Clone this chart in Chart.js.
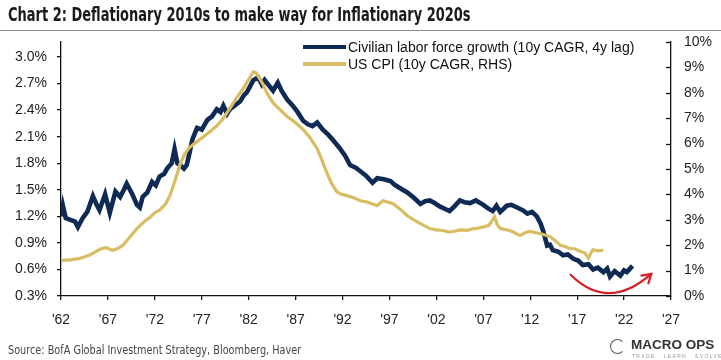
<!DOCTYPE html>
<html>
<head>
<meta charset="utf-8">
<script src="https://cdn.jsdelivr.net/npm/chart.js@4/dist/chart.umd.min.js"></script>
<style>
body{margin:0;background:#fff;}
#wrap{position:relative;width:721px;height:360px;overflow:hidden;background:#fff;}
#c{position:absolute;left:0;top:0;}
.title{position:absolute;left:8px;top:3px;font-family:"Liberation Sans Narrow","DejaVu Sans Condensed",sans-serif;font-weight:bold;font-size:19px;color:#1b1b1b;white-space:nowrap;transform:scaleX(0.76);transform-origin:0 0;}
.rule{position:absolute;left:0;top:30px;width:721px;height:1px;background:#8a8a8a;}
.legend{position:absolute;left:303px;top:39px;font-family:"Liberation Sans",Arial,sans-serif;font-size:14px;color:#111;}
.legend div{height:16.5px;line-height:16.5px;white-space:nowrap;}
.legend span{display:inline-block;width:43px;height:4px;vertical-align:middle;margin-right:2px;margin-top:-2px;}
.source{position:absolute;left:8px;top:342px;font-family:"Liberation Sans Narrow","DejaVu Sans Condensed",sans-serif;font-size:13px;color:#444;white-space:nowrap;transform:scaleX(0.83);transform-origin:0 0;}
.logo{position:absolute;left:610px;top:336px;font-family:"Liberation Sans",Arial,sans-serif;color:#333;}
.logo .ring{position:absolute;left:0;top:3px;width:13px;height:13px;border:1.5px solid #555;border-radius:50%;border-right-color:transparent;}
.logo .name{position:absolute;left:21px;top:1px;font-size:13.5px;font-weight:bold;white-space:nowrap;}
.logo .sub{position:absolute;left:22px;top:17px;font-size:5px;color:#999;letter-spacing:1.3px;white-space:nowrap;}
</style>
</head>
<body>
<div id="wrap">
<canvas id="c" width="721" height="360"></canvas>
<div class="title">Chart 2: Deflationary 2010s to make way for Inflationary 2020s</div>
<div class="rule"></div>
<div class="legend">
<div><span style="background:#0f2b55"></span>Civilian labor force growth (10y CAGR, 4y lag)</div>
<div><span style="background:#d8bd62"></span>US CPI (10y CAGR, RHS)</div>
</div>
<div class="source">Source: BofA Global Investment Strategy, Bloomberg, Haver</div>
<div class="logo"><div class="ring"></div><div class="name">MACRO OPS</div><div class="sub">TRADE · LEARN · EVOLVE</div></div>
</div>

<script>
// labor force growth, 10y CAGR, 4y lag (left axis, %)
let laborYears=[1962.0,1962.2,1962.5,1963.0,1963.5,1963.8,1964.3,1964.8,1965.4,1965.8,1966.1,1966.7,1967.2,1967.8,1968.3,1968.7,1969.0,1969.6,1970.1,1970.4,1970.7,1971.2,1971.7,1972.1,1972.5,1973.0,1973.3,1973.8,1974.1,1974.4,1974.7,1975.1,1975.4,1975.7,1976.0,1976.5,1977.0,1977.6,1978.1,1978.6,1979.0,1979.3,1979.7,1980.0,1980.5,1981.1,1981.5,1981.8,1982.2,1982.5,1983.0,1983.4,1983.7,1984.0,1984.6,1985.1,1985.5,1986.1,1986.7,1987.2,1987.8,1988.3,1988.8,1989.3,1989.9,1990.5,1991.0,1991.7,1992.3,1992.8,1993.4,1993.9,1994.5,1995.2,1995.7,1996.4,1997.1,1997.5,1997.8,1998.4,1998.9,1999.6,2000.3,2000.8,2001.3,2001.8,2002.4,2003.0,2003.4,2003.9,2004.5,2005.0,2005.6,2006.2,2007.0,2007.5,2008.0,2008.4,2008.8,2009.5,2010.0,2010.6,2011.2,2011.7,2012.2,2012.7,2013.1,2013.4,2013.8,2014.1,2014.4,2015.0,2015.5,2016.0,2016.6,2017.1,2017.6,2018.2,2018.7,2019.2,2019.8,2020.2,2020.5,2021.0,2021.6,2022.0,2022.3,2022.9]
let laborValues=[1.20,1.32,1.18,1.16,1.14,1.08,1.18,1.25,1.43,1.33,1.27,1.45,1.24,1.48,1.42,1.50,1.57,1.45,1.33,1.30,1.42,1.47,1.59,1.55,1.65,1.68,1.74,1.80,1.96,1.80,1.78,1.74,1.78,1.92,2.07,2.20,2.18,2.29,2.33,2.41,2.38,2.45,2.36,2.41,2.45,2.50,2.57,2.60,2.68,2.74,2.77,2.69,2.74,2.70,2.62,2.71,2.62,2.52,2.45,2.38,2.28,2.24,2.22,2.26,2.18,2.12,2.06,1.97,1.88,1.78,1.75,1.71,1.66,1.58,1.63,1.62,1.60,1.56,1.54,1.50,1.47,1.41,1.34,1.37,1.38,1.35,1.31,1.28,1.26,1.31,1.38,1.36,1.35,1.38,1.33,1.29,1.26,1.32,1.25,1.32,1.33,1.30,1.27,1.23,1.25,1.20,1.12,1.03,0.87,0.88,0.82,0.80,0.76,0.77,0.72,0.70,0.65,0.66,0.60,0.62,0.57,0.61,0.52,0.58,0.53,0.59,0.57,0.64]

// US CPI, 10y CAGR (right axis, %)
let cpiYears=[1962.0,1963.0,1964.0,1965.0,1966.2,1966.8,1967.5,1968.0,1968.6,1969.3,1970.1,1970.8,1971.5,1972.0,1972.5,1973.1,1973.6,1974.2,1974.7,1975.2,1975.7,1976.4,1977.1,1977.8,1978.6,1979.2,1979.7,1980.2,1980.7,1981.3,1981.8,1982.2,1982.5,1982.8,1983.1,1983.5,1984.0,1984.6,1985.3,1986.1,1986.9,1987.8,1988.5,1989.3,1989.8,1990.3,1990.8,1991.4,1991.9,1992.5,1993.1,1993.9,1994.6,1995.2,1995.7,1996.3,1996.8,1997.4,1998.2,1998.9,1999.6,2000.3,2000.8,2001.3,2002.0,2002.7,2003.3,2003.8,2004.6,2005.3,2005.8,2006.3,2007.0,2007.6,2008.2,2008.5,2008.8,2009.3,2009.8,2010.3,2010.9,2011.5,2012.0,2012.5,2013.0,2013.6,2014.1,2014.6,2015.2,2015.7,2016.2,2016.8,2017.3,2017.8,2018.2,2018.5,2018.7,2019.2,2019.8]
let cpiValues=[1.40,1.42,1.48,1.60,1.85,1.90,1.80,1.86,2.00,2.30,2.66,2.90,3.10,3.28,3.38,3.60,3.95,4.60,5.20,5.60,5.85,6.05,6.25,6.45,6.70,6.95,7.22,7.50,7.80,8.10,8.40,8.65,8.83,8.78,8.60,8.35,7.95,7.60,7.35,7.07,6.85,6.56,6.25,5.80,5.35,4.88,4.45,4.10,4.00,3.95,3.88,3.75,3.70,3.62,3.56,3.75,3.70,3.63,3.40,3.16,3.00,2.85,2.75,2.66,2.60,2.58,2.52,2.54,2.60,2.58,2.64,2.66,2.72,2.78,3.12,2.80,2.66,2.62,2.58,2.50,2.38,2.50,2.54,2.50,2.46,2.40,2.34,2.20,2.00,1.95,1.88,1.85,1.76,1.70,1.50,1.72,1.82,1.78,1.80]

let xTicks=[1962,1967,1972,1977,1982,1987,1992,1997,2002,2007,2012,2017,2022,2027]
let leftTicks=[0.3,0.6,0.9,1.2,1.5,1.8,2.1,2.4,2.7,3.0]
let rightTicks=[0,1,2,3,4,5,6,7,8,9,10]

// red "turning up" arrow, in data units (x year, y left axis %)
let arrowStart={x:2016.3,y:0.54}
let arrowCtrl={x:2020.3,y:0.12}
let arrowEnd={x:2024.9,y:0.55}

function toPoints(xs,ys){
let pts=[]
xs.forEach((x,i)=>{
pts.push({x:x,y:ys[i]})
})
return pts
}

const tickFont={family:"'Liberation Sans', Arial, sans-serif",size:14}

const extras={
id:"extras",
afterDatasetsDraw(chart){
let ctx=chart.ctx
let ry=chart.scales.yR
let xs=chart.scales.x
let yl=chart.scales.y
// inward ticks on the right axis
ctx.save()
ctx.strokeStyle="#111"
ctx.lineWidth=1.3
ry.ticks.forEach((t,i)=>{
let py=Math.round(ry.getPixelForTick(i))+0.5
ctx.beginPath()
ctx.moveTo(ry.left-5,py)
ctx.lineTo(ry.left,py)
ctx.stroke()
})
// red arrow
let p0={x:xs.getPixelForValue(arrowStart.x),y:yl.getPixelForValue(arrowStart.y)}
let p1={x:xs.getPixelForValue(arrowCtrl.x),y:yl.getPixelForValue(arrowCtrl.y)}
let p2={x:xs.getPixelForValue(arrowEnd.x),y:yl.getPixelForValue(arrowEnd.y)}
ctx.strokeStyle="#d42027"
ctx.lineWidth=2.2
ctx.lineCap="round"
ctx.beginPath()
ctx.moveTo(p0.x,p0.y)
ctx.quadraticCurveTo(p1.x,p1.y,p2.x,p2.y)
ctx.stroke()
let ang=Math.atan2(p2.y-p1.y,p2.x-p1.x)
ctx.beginPath()
ctx.moveTo(p2.x-10*Math.cos(ang-0.55),p2.y-10*Math.sin(ang-0.55))
ctx.lineTo(p2.x,p2.y)
ctx.lineTo(p2.x-10*Math.cos(ang+0.55),p2.y-10*Math.sin(ang+0.55))
ctx.stroke()
ctx.restore()
}
}

new Chart(document.getElementById("c"),{

type:"line",

data:{
datasets:[{
label:"US CPI (10y CAGR, RHS)",
data:toPoints(cpiYears,cpiValues),
yAxisID:"yR",
borderColor:"#d8bd62",
borderWidth:3.2,
pointRadius:0,
order:0
},{
label:"Civilian labor force growth (10y CAGR, 4y lag)",
data:toPoints(laborYears,laborValues),
yAxisID:"y",
borderColor:"#0f2b55",
borderWidth:4.6,
pointRadius:0,
order:1
}]
},

options:{
responsive:false,
animation:false,
devicePixelRatio:1,
layout:{padding:{top:42,left:0,right:0,bottom:0}},
plugins:{legend:{display:false},tooltip:{enabled:false}},
scales:{
x:{
type:"linear",
min:1962,
max:2027,
afterBuildTicks:s=>{s.ticks=xTicks.map(v=>({value:v}))},
afterFit:s=>{s.height=64},
border:{color:"#111",width:1.3},
grid:{drawOnChartArea:false,color:"#111",tickLength:4,lineWidth:1.3},
ticks:{font:tickFont,color:"#222",padding:12,maxRotation:0,autoSkip:false,callback:v=>"'"+String(v).slice(2)}
},
y:{
position:"left",
min:0.3,
max:3.17,
afterBuildTicks:s=>{s.ticks=leftTicks.map(v=>({value:v}))},
afterFit:s=>{s.width=61},
border:{color:"#111",width:1.3},
grid:{drawOnChartArea:false,color:"#111",tickLength:4,lineWidth:1.3},
ticks:{font:tickFont,color:"#222",padding:10,autoSkip:false,callback:v=>v.toFixed(1)+"%"}
},
yR:{
position:"right",
min:0,
max:10,
afterBuildTicks:s=>{s.ticks=rightTicks.map(v=>({value:v}))},
afterFit:s=>{s.width=50},
border:{color:"#111",width:1.3},
grid:{drawOnChartArea:false,drawTicks:false},
ticks:{font:tickFont,color:"#222",padding:13,autoSkip:false,callback:v=>v+"%"}
}
}
},

plugins:[extras]

})
</script>
</body>
</html>
